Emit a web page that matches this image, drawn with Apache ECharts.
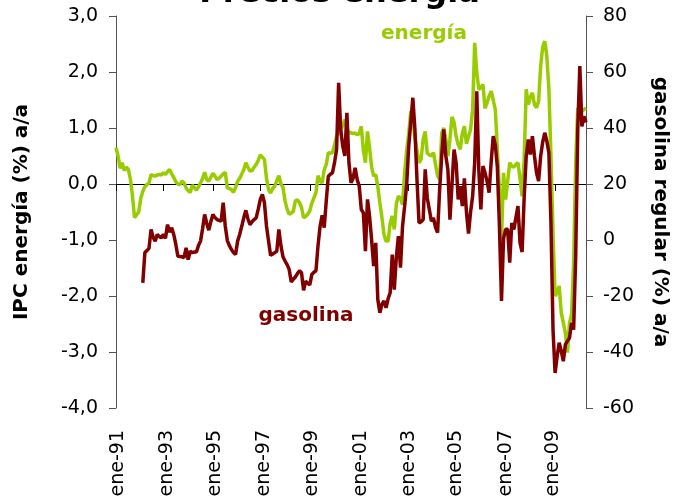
<!DOCTYPE html>
<html>
<head>
<meta charset="utf-8">
<title>Precios energía</title>
<script src="https://cdn.jsdelivr.net/npm/echarts@6/dist/echarts.min.js"></script>
<style>
	html,body{ margin:0; padding:0; background:#fff;}
	#main{ width:679px; height:499px;}
</style>
</head>
<body>
<div id="main"></div>
<script>
// IPC energía, % a/a (eje izquierdo), mensual
var energia=[
	0.65,0.5,0.28,0.38,0.24,0.3,0.26,0.08,-0.22,-0.6,
	-0.55,-0.5,-0.26,-0.13,-0.05,-0.01,0.02,0.17,0.15,0.14,
	0.16,0.17,0.16,0.2,0.17,0.22,0.26,0.18,0.12,0.04,
	0,-0.01,0.05,0.02,-0.07,-0.12,-0.15,-0.02,-0.06,-0.11,
	-0.05,0.02,0.1,0.21,0.08,0.05,0.12,0.19,0.14,0.08,
	0.1,0.14,0.18,0.21,-0.07,-0.08,-0.1,-0.15,-0.06,0.05,
	0.1,0.18,0.26,0.38,0.3,0.23,0.24,0.3,0.35,0.42,
	0.52,0.48,0.44,0.1,-0.1,-0.16,-0.08,-0.04,0.06,0.15,
	0,-0.06,-0.3,-0.45,-0.54,-0.52,-0.49,-0.3,-0.28,-0.33,
	-0.42,-0.6,-0.58,-0.54,-0.48,-0.34,-0.25,-0.15,0.15,0.05,
	0.02,0.25,0.35,0.56,0.55,0.56,0.7,0.85,0.91,0.95,
	1.05,1.15,1.0,0.91,0.92,0.9,0.91,0.88,0.9,1.03,
	0.6,0.38,0.94,0.65,0.3,0.14,0.17,-0.05,-0.34,-0.6,
	-0.9,-1.02,-1.02,-0.7,-0.57,-0.81,-0.35,-0.22,-0.25,-0.37,
	0.2,0.6,0.9,1.3,1.12,0.85,0.6,0.38,0.44,0.8,
	0.94,0.55,0.52,0.5,0.56,0.35,0.15,0.08,0.91,1.0,
	0.8,0.5,0.8,1.2,1.1,0.85,0.7,0.62,0.9,1.03,
	0.72,0.85,0.97,1.33,2.52,2.0,1.69,1.72,1.78,1.35,
	1.45,1.57,1.66,1.5,1.33,0.62,-0.1,-0.99,0.2,-0.28,
	0.05,0.38,0.32,0.3,0.35,0.38,0.1,-0.22,0.44,1.69,
	1.42,1.55,1.63,1.42,1.36,1.48,2.1,2.45,2.55,2.28,
	1.69,0.5,-0.87,-2.0,-1.94,-1.82,-2.3,-2.48,-2.66,-3.01,
	-2.48,-2.33,-1.41,0.38,1.36,1.21,1.3,1.33,1.36
];
// gasolina regular, % a/a (eje derecho)
var gasolina=[
	null,null,null,null,null,null,null,null,null,null,
	null,null,null,-15.3,-4.5,-3.8,-3.0,3.8,1.0,-0.4,
	2.0,1.2,0.8,2.0,0.6,5.5,2.8,4.4,2.0,-1.5,
	-5.8,-5.9,-6.0,-6.3,-2.8,-7.0,-4.0,-4.5,-4.3,-4.3,
	-2.0,-0.4,4.0,9.1,6.0,3.5,6.5,9.1,8.0,7.3,
	7.0,6.7,13.3,5.0,-0.2,-2.0,-3.4,-4.5,-5.2,-0.4,
	2.0,4.9,8.0,10.6,7.5,5.5,6.5,7.3,7.9,11.0,
	14.5,16.3,13.3,5.0,-0.4,-5.5,-5.0,-4.5,-4.0,3.8,
	-2.0,-6.0,-7.5,-8.8,-10.5,-15.0,-14.0,-13.2,-12.0,-11.0,
	-11.7,-18.0,-14.7,-15.5,-16.0,-12.3,-11.5,-11.0,-2.0,4.9,
	8.8,4.4,14.0,22.8,23.5,24.0,27.6,32.3,56.1,39.5,
	33.5,30.0,45.4,27.6,20.4,22.0,25.8,21.6,19.2,10.9,
	9.7,-4.0,14.5,8.5,0.0,-9.3,-1.0,-21.2,-26.0,-23.0,
	-21.8,-24.2,-21.0,-18.8,-5.2,-17.7,-6.0,1.4,-9.9,4.9,
	12.0,19.8,33.5,42.0,50.8,39.5,21.6,6.1,6.5,7.3,
	25.2,15.0,10.9,6.7,7.9,4.5,2.6,18.0,30.0,39.5,
	30.0,25.2,7.3,20.0,32.3,27.6,14.5,19.2,12.1,22.0,
	10.0,2.3,10.0,15.6,27.6,53.1,25.0,10.9,26.4,24.0,
	21.0,16.9,28.0,37.1,34.0,26.0,5.0,-21.8,0.5,3.8,
	3.8,-8.1,6.1,3.8,8.0,12.1,-1.0,-4.3,15.1,29.9,
	35.9,30.5,37.1,30.0,24.0,21.0,29.9,35.0,38.3,35.3,
	31.1,6.1,-32.0,-47.5,-41.5,-36.7,-39.7,-43.3,-37.3,-36.1,
	-34.9,-29.6,-32.0,-5.8,39.5,62.1,40.6,44.2,42.0
];
var xLabels=['ene-91','ene-93','ene-95','ene-97','ene-99','ene-01','ene-03','ene-05','ene-07','ene-09'];
var labelIdx=[1,25,48,72,95,119,142,165,189,212];
var tickIdx=[0,23,47,70,94,118,142,165,189,213];
var meses=['ene','feb','mar','abr','may','jun','jul','ago','sep','oct','nov','dic'];

var categorias=[];
for(var i=0;i<energia.length;i++){
	var yy=(1991+Math.floor(i/12))%100;
	categorias.push(meses[i%12]+'-'+(yy<10?'0'+yy:yy));
}

var fam='DejaVu Sans';
var verde='#99CC00';
var granate='#800000';

var myChart=echarts.init(document.getElementById('main'));
myChart.setOption({
	animation:false,
	backgroundColor:'#fff',
	grid:{left:116,right:93,top:16,bottom:91,containLabel:false,outerBoundsMode:'none'},
	xAxis:[{
		type:'category',data:categorias,boundaryGap:false,position:'top',
		axisLine:{onZero:true,lineStyle:{color:'#000',width:1}},
		axisTick:{show:true,inside:true,length:7,lineStyle:{color:'#000'},
			interval:function(i){return tickIdx.indexOf(i)>=0;}},
		axisLabel:{show:false},
		splitLine:{show:false}
	},{
		type:'category',data:categorias,boundaryGap:false,position:'bottom',
		axisLine:{show:false,onZero:false},
		axisTick:{show:false},
		splitLine:{show:false},
		axisLabel:{
			interval:function(i){return labelIdx.indexOf(i)>=0;},
			formatter:function(v,i){return xLabels[labelIdx.indexOf(i)];},
			rotate:90,margin:22,fontSize:19,color:'#000',fontFamily:fam
		}
	}],
	yAxis:[{
		type:'value',min:-4,max:3,interval:1,position:'left',
		axisLine:{show:true,onZero:false,lineStyle:{color:'#555'}},
		axisTick:{show:true,length:7,lineStyle:{color:'#555'}},
		splitLine:{show:false},
		axisLabel:{formatter:function(v){return v.toFixed(1).replace('.',',');},
			fontSize:19,color:'#000',margin:18,fontFamily:fam},
		name:'IPC energía (%) a/a',nameLocation:'middle',nameRotate:90,nameGap:84,
		nameTextStyle:{fontSize:20,fontWeight:'bold',color:'#000',fontFamily:fam}
	},{
		type:'value',min:-60,max:80,interval:20,position:'right',
		axisLine:{show:true,onZero:false,lineStyle:{color:'#555'}},
		axisTick:{show:true,length:7,lineStyle:{color:'#555'}},
		splitLine:{show:false},
		axisLabel:{fontSize:19,color:'#000',margin:17,fontFamily:fam},
		name:'gasolina regular (%) a/a',nameLocation:'middle',nameRotate:-90,nameGap:64,
		nameTextStyle:{fontSize:20,fontWeight:'bold',color:'#000',fontFamily:fam}
	}],
	series:[{
		name:'energía',type:'line',data:energia,xAxisIndex:0,yAxisIndex:0,
		symbol:'none',showSymbol:false,
		lineStyle:{color:verde,width:3.5},itemStyle:{color:verde}
	},{
		name:'gasolina',type:'line',data:gasolina,xAxisIndex:0,yAxisIndex:1,
		symbol:'none',showSymbol:false,connectNulls:false,
		lineStyle:{color:granate,width:3.5},itemStyle:{color:granate}
	}],
	graphic:[{
		type:'text',left:'center',x:344,y:-3,
		style:{text:'Precios energía',x:344,y:-3,textAlign:'center',textVerticalAlign:'middle',
			fontSize:32,fontWeight:'bold',fill:'#000',fontFamily:fam}
	},{
		type:'text',x:424,y:34,
		style:{text:'energía',textAlign:'center',textVerticalAlign:'middle',
			fontSize:20,fontWeight:'bold',fill:verde,fontFamily:fam}
	},{
		type:'text',x:306,y:316,
		style:{text:'gasolina',textAlign:'center',textVerticalAlign:'middle',
			fontSize:20,fontWeight:'bold',fill:granate,fontFamily:fam}
	}]
});
</script>
</body>
</html>
